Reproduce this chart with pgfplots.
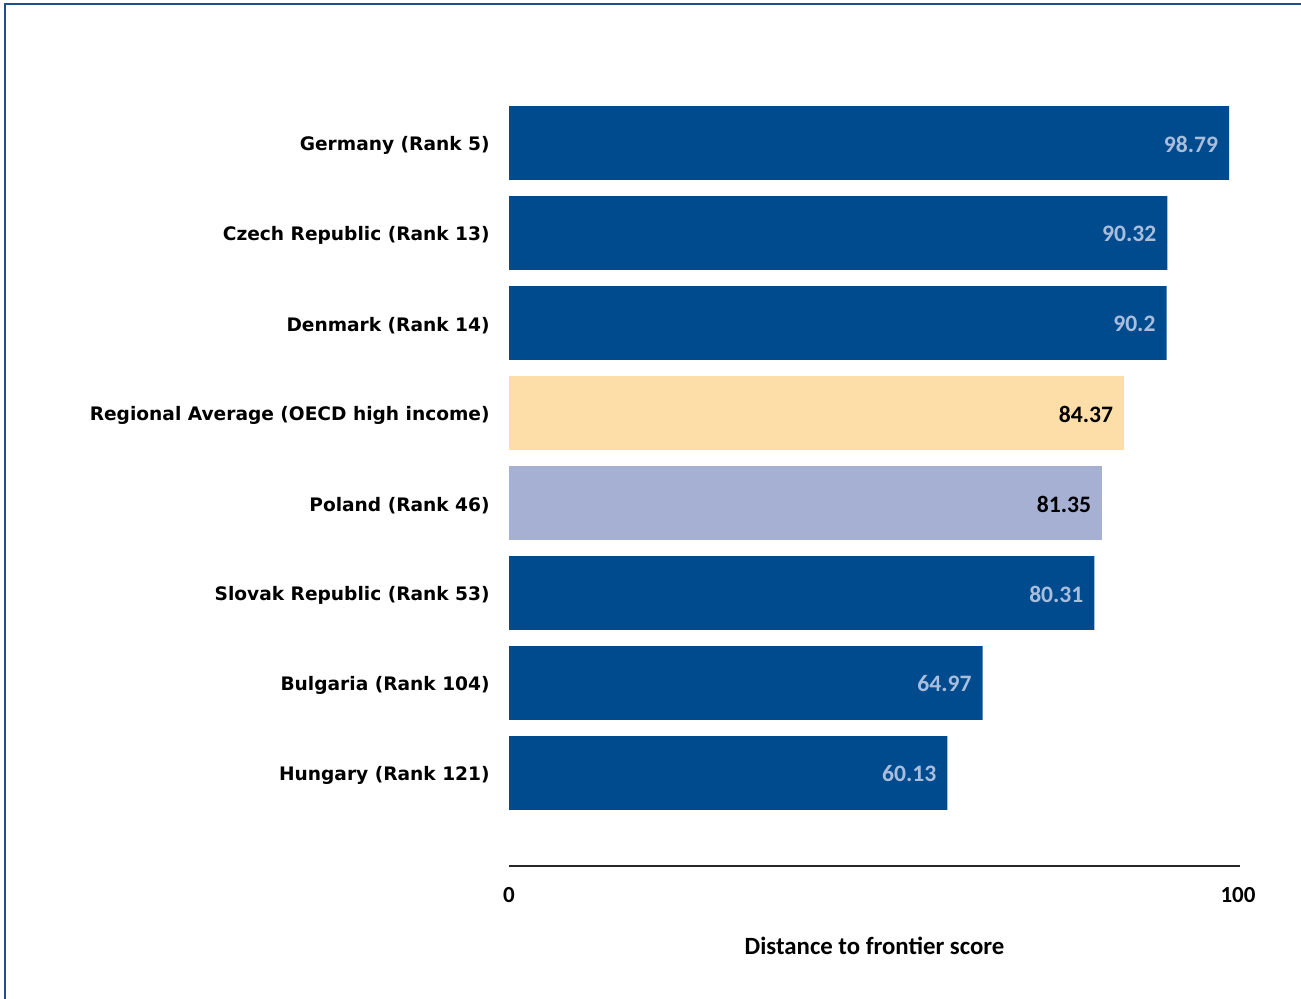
\documentclass[border=0pt]{standalone}
\usepackage{pgfplots}
\pgfplotsset{compat=1.18}
\usepackage{fontspec}
\setmainfont{Carlito}
\newfontfamily\catfont{DejaVu Sans}

\definecolor{barblue}{HTML}{004B8D}
\definecolor{avgpeach}{HTML}{FDDEA8}
\definecolor{polandlav}{HTML}{A5B0D3}
\definecolor{vallabel}{HTML}{A9BEDD}
\definecolor{frameblue}{HTML}{1F4F8F}

\begin{document}
\begin{tikzpicture}
% 1 px of the reference = 0.5pt
\path[use as bounding box] (0,0) rectangle (650.5pt,499.5pt);
\draw[frameblue, line width=1pt] (2.5pt,0) -- (2.5pt,497.5pt) -- (650.5pt,497.5pt);

\begin{axis}[
    at={(254.5pt,66.5pt)}, anchor=south west,
    xbar, bar shift=0pt, bar width=0.82,
    x=3.645pt, y=45pt,
    xmin=0, xmax=100.3,
    ymin=-1.0333, ymax=7.6,
    axis x line*=bottom,
    axis y line*=left,
    y axis line style={draw=none},
    x axis line style={line width=1pt, color=black!85},
    xtick={0,100},
    xticklabel style={font=\fontsize{11.5}{12}\selectfont\bfseries, anchor=north, inner sep=0pt, yshift=-10.5pt},
    major tick length=0pt,
    ytick={0,...,7},
    yticklabels={Hungary (Rank 121),Bulgaria (Rank 104),Slovak Republic (Rank 53),Poland (Rank 46),Regional Average (OECD high income),Denmark (Rank 14),Czech Republic (Rank 13),Germany (Rank 5)},
    yticklabel style={font=\catfont\fontsize{9.3}{10}\selectfont\bfseries, anchor=east, inner sep=0pt, xshift=-9.5pt, yshift=-1.2pt},
    /pgf/number format/assume math mode=true,
    nodes near coords,
    nodes near coords style={anchor=east, xshift=-2pt, yshift=-0.5pt, font=\fontsize{11.8}{12}\selectfont\bfseries},
    xlabel={Distance to frontier score},
    every axis x label/.style={at={(axis description cs:0.5,0)}, anchor=center, yshift=-40pt, font=\fontsize{12.4}{13}\selectfont\bfseries},
    clip=false,
]
\addplot[fill=barblue, draw=none, nodes near coords style={color=vallabel}]
    coordinates {(60.13,0) (64.97,1) (80.31,2) (90.2,5) (90.32,6) (98.79,7)};
\addplot[fill=polandlav, draw=none, nodes near coords style={color=black}]
    coordinates {(81.35,3)};
\addplot[fill=avgpeach, draw=none, nodes near coords style={color=black}]
    coordinates {(84.37,4)};
\end{axis}
\end{tikzpicture}
\end{document}
